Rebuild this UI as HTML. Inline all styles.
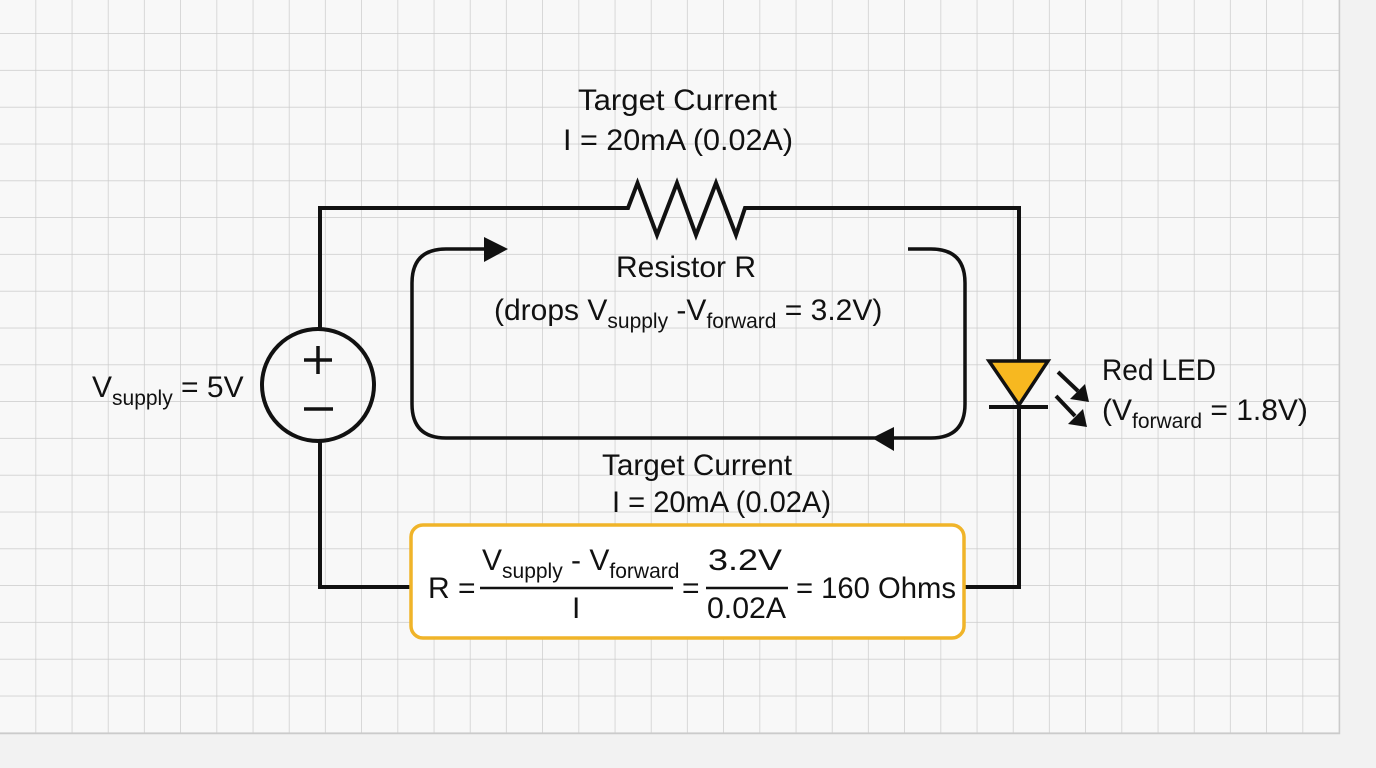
<!DOCTYPE html>
<html><head><meta charset="utf-8"><style>
html,body{margin:0;padding:0;background:#f2f2f2;}
svg{display:block;}
text{font-family:"Liberation Sans",sans-serif;fill:#111;}
</style></head><body>
<svg width="1376" height="768" viewBox="0 0 1376 768" xmlns="http://www.w3.org/2000/svg">
<defs>
<pattern id="g" x="0" y="-2.8" width="36.2" height="36.8" patternUnits="userSpaceOnUse">
<rect width="36.2" height="36.8" fill="#f8f8f8"/>
<path d="M36.2 0V36.8M0 36.8H36.2" stroke="#cbcbcb" stroke-width="1.4" fill="none"/>
</pattern>
</defs>
<rect x="0" y="0" width="1376" height="768" fill="#f2f2f2"/>
<rect x="0" y="0" width="1340" height="733" fill="url(#g)"/>
<path d="M1339.5 0V733.5H0" stroke="#cbcbcb" stroke-width="1.4" fill="none"/>

<g stroke="#111" stroke-width="4" fill="none" stroke-linejoin="miter">
<path d="M320 330V208H628L637.5 183L657 235L677 183L696 235L716 183L736 235L745 208H1019V360"/>
<path d="M1019 405V587H965"/>
<path d="M411 587H320V440"/>
<circle cx="318" cy="385" r="56"/>
<path d="M318 346V374M304 360H332" stroke-width="3.5"/>
<path d="M304 409H333" stroke-width="3.5"/>
<path d="M488 249H446Q412 249 412 283V404Q412 438 446 438H931Q965 438 965 404V283Q965 249 931 249H908" stroke-width="3.5"/>
</g>
<polygon points="484,237 508,249 484,262" fill="#111"/>
<polygon points="872,438 894,427 894,451" fill="#111"/>

<polygon points="989,361 1048,361 1019,405" fill="#f7b820" stroke="#111" stroke-width="3.5" stroke-linejoin="miter"/>
<path d="M989 407H1048" stroke="#111" stroke-width="4"/>
<g stroke="#111" stroke-width="4">
<path d="M1058 372L1078 391"/>
<path d="M1056 396L1075 416"/>
</g>
<polygon points="1089,402 1070,399 1085,384" fill="#111"/>
<polygon points="1087,427 1068,424 1083,409" fill="#111"/>

<rect x="411" y="525" width="553" height="113" rx="12" fill="#fff" stroke="#f0b429" stroke-width="3.5"/>

<text x="578" y="110" font-size="30" textLength="199" lengthAdjust="spacingAndGlyphs">Target Current</text>
<text x="563" y="150" font-size="30" textLength="230" lengthAdjust="spacingAndGlyphs">I = 20mA (0.02A)</text>
<text x="616" y="277" font-size="30" textLength="140" lengthAdjust="spacingAndGlyphs">Resistor R</text>
<text x="494" y="320" font-size="30">(drops V<tspan font-size="21" dy="8">supply</tspan><tspan dy="-8"> -V</tspan><tspan font-size="21" dy="8">forward</tspan><tspan dy="-8"> = 3.2V)</tspan></text>
<text x="92" y="397" font-size="30">V<tspan font-size="21" dy="8">supply</tspan><tspan dy="-8"> = 5V</tspan></text>
<text x="1102" y="380" font-size="30" textLength="114" lengthAdjust="spacingAndGlyphs">Red LED</text>
<text x="1102" y="420" font-size="30">(V<tspan font-size="21" dy="8">forward</tspan><tspan dy="-8"> = 1.8V)</tspan></text>
<text x="602" y="475" font-size="30" textLength="190" lengthAdjust="spacingAndGlyphs">Target Current</text>
<text x="612" y="512" font-size="30" textLength="219" lengthAdjust="spacingAndGlyphs">I = 20mA (0.02A)</text>

<text x="428" y="598" font-size="30">R =</text>
<text x="482" y="570" font-size="30">V<tspan font-size="21" dy="8">supply</tspan><tspan dy="-8"> - V</tspan><tspan font-size="21" dy="8">forward</tspan></text>
<path d="M480 588H673" stroke="#111" stroke-width="2.5"/>
<text x="572" y="618" font-size="30">I</text>
<text x="682" y="598" font-size="30">=</text>
<text x="708" y="570" font-size="30" textLength="74" lengthAdjust="spacingAndGlyphs">3.2V</text>
<path d="M706 588H788" stroke="#111" stroke-width="2.5"/>
<text x="707" y="618" font-size="30" textLength="79" lengthAdjust="spacingAndGlyphs">0.02A</text>
<text x="796" y="598" font-size="30" textLength="160" lengthAdjust="spacingAndGlyphs">= 160 Ohms</text>
</svg>
</body></html>
